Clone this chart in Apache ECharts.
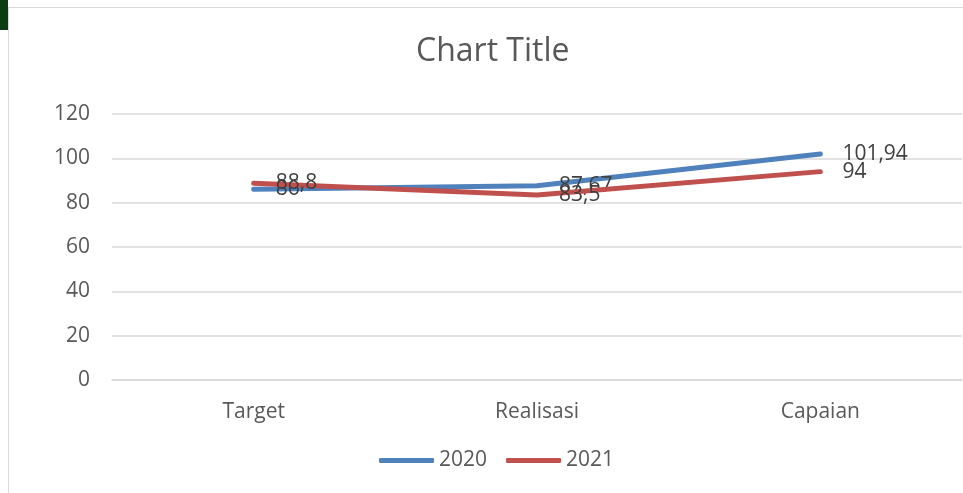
<!DOCTYPE html>
<html>
<head>
<meta charset="utf-8">
<script src="https://cdn.jsdelivr.net/npm/echarts@6/dist/echarts.min.js"></script>
<style>
  html, body { margin: 0; padding: 0; background: #fff; }
  #chart { width: 963px; height: 493px; }
</style>
</head>
<body>
<div id="chart"></div>
<script>
var categories = ['Target', 'Realisasi', 'Capaian'];
var data2020 = [86, 87.67, 101.94];
var data2021 = [88.8, 83.5, 94];
var yTicks = { min: 0, max: 120, interval: 20 };

var fontFam = '"Open Sans", sans-serif';
var myChart = echarts.init(document.getElementById('chart'));

function labelFmt (p) {
  return String(p.value).replace('.', ',');
}

var option = {
  backgroundColor: '#fff',
  title: {
    text: 'Chart Title',
    left: 411,
    top: 31,
    textStyle: {
      color: '#595959',
      fontFamily: fontFam,
      fontWeight: 'normal',
      fontSize: 32
    }
  },
  legend: {
    data: ['2020', '2021'],
    bottom: 17,
    left: 374,
    icon: 'roundRect',
    itemWidth: 55,
    itemHeight: 5,
    itemGap: 19,
    textStyle: { color: '#595959', fontFamily: fontFam, fontSize: 21 }
  },
  grid: {
    left: 112,
    right: 1,
    top: 114,
    bottom: 113,
    containLabel: false
  },
  xAxis: {
    type: 'category',
    data: categories,
    boundaryGap: true,
    axisLine: { lineStyle: { color: '#d9d9d9', width: 1.5 } },
    axisTick: { show: false },
    axisLabel: { color: '#595959', fontFamily: fontFam, fontSize: 21, margin: 22 }
  },
  yAxis: {
    type: 'value',
    min: yTicks.min,
    max: yTicks.max,
    interval: yTicks.interval,
    axisLine: { show: false },
    axisTick: { show: false },
    axisLabel: { color: '#595959', fontFamily: fontFam, fontSize: 21, margin: 22 },
    splitLine: { lineStyle: { color: '#d9d9d9', width: 1.5 } }
  },
  series: [
    {
      name: '2020',
      type: 'line',
      data: data2020,
      symbol: 'circle',
      symbolSize: 0.1,
      color: '#4F81BD',
      lineStyle: { width: 5, cap: 'round', join: 'round' },
      label: {
        show: true,
        position: 'right',
        distance: 22,
        formatter: labelFmt,
        color: '#404040',
        fontFamily: fontFam,
        fontSize: 21
      },
      z: 2
    },
    {
      name: '2021',
      type: 'line',
      data: data2021,
      symbol: 'circle',
      symbolSize: 0.1,
      color: '#C0504D',
      lineStyle: { width: 5, cap: 'round', join: 'round' },
      label: {
        show: true,
        position: 'right',
        distance: 22,
        formatter: labelFmt,
        color: '#404040',
        fontFamily: fontFam,
        fontSize: 21
      },
      z: 3
    }
  ],
  graphic: [
    {
      type: 'rect',
      shape: { x: 8.5, y: 7.5, width: 1000, height: 1000 },
      style: { fill: 'none', stroke: '#d9d9d9', lineWidth: 1 },
      silent: true
    },
    {
      type: 'polygon',
      shape: { points: [[0, 0], [8, 0], [8, 30], [0, 30]] },
      style: { fill: '#0b3d12' },
      silent: true
    }
  ]
};

option && myChart.setOption(option);
</script>
</body>
</html>
